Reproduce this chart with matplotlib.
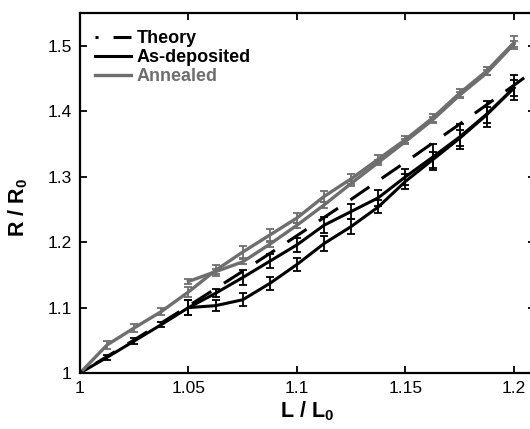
import matplotlib
matplotlib.use("Agg")
import matplotlib.pyplot as plt

plt.rcParams['font.family'] = ['Liberation Sans', 'DejaVu Sans']
plt.rcParams['mathtext.fontset'] = 'custom'
plt.rcParams['mathtext.rm'] = 'Liberation Sans'
plt.rcParams['mathtext.bf'] = 'Liberation Sans:bold'

GRAY = '#6e6e6e'

# strain steps L/L0
strain = [1.0, 1.0125, 1.025, 1.0375, 1.05, 1.0625, 1.075, 1.0875, 1.1,
          1.1125, 1.125, 1.1375, 1.15, 1.1625, 1.175, 1.1875, 1.2]
strain_2nd = strain[4:]

# theory
theory_L = [1.0, 1.025, 1.05, 1.075, 1.1, 1.125, 1.15, 1.175, 1.2, 1.225]
theory_R = [1.0, 1.0506, 1.1025, 1.1556, 1.21, 1.2656, 1.3225, 1.3806, 1.44, 1.5006]

# as-deposited, first branch and second branch
asdep_1 = [1.0, 1.024, 1.049, 1.074, 1.100, 1.122, 1.146, 1.171, 1.196,
           1.226, 1.247, 1.268, 1.300, 1.330, 1.361, 1.396, 1.436]
asdep_1_err = [0.003, 0.004, 0.004, 0.004, 0.012, 0.006, 0.011, 0.011, 0.011,
               0.012, 0.011, 0.012, 0.012, 0.020, 0.019, 0.020, 0.019]
asdep_2 = [1.100, 1.103, 1.112, 1.137, 1.166, 1.198, 1.224, 1.254, 1.293,
           1.326, 1.359, 1.395, 1.436]
asdep_2_err = [0.012, 0.008, 0.010, 0.010, 0.010, 0.011, 0.011, 0.010, 0.012,
               0.012, 0.012, 0.012, 0.012]

# annealed, first branch and second branch
anneal_1 = [1.0, 1.043, 1.069, 1.094, 1.124, 1.157, 1.185, 1.211, 1.237,
            1.270, 1.297, 1.327, 1.357, 1.390, 1.428, 1.462, 1.505]
anneal_1_err = [0.003, 0.006, 0.006, 0.005, 0.008, 0.008, 0.009, 0.009, 0.008,
                0.008, 0.008, 0.006, 0.006, 0.006, 0.006, 0.006, 0.010]
anneal_2 = [1.140, 1.155, 1.170, 1.197, 1.226, 1.257, 1.290, 1.322, 1.354,
            1.387, 1.425, 1.459, 1.503]
anneal_2_err = [0.004] * len(anneal_2)

fig = plt.figure(figsize=(5.30, 4.29), dpi=100)
ax = fig.add_axes([80 / 530, 56 / 429, 455 / 530, 360 / 429])

eb = dict(fmt='none', capsize=2.6, elinewidth=1.3, capthick=1.3)
ax.errorbar(strain, asdep_1, yerr=asdep_1_err, ecolor='black', **eb)
ax.errorbar(strain_2nd, asdep_2, yerr=asdep_2_err, ecolor='black', **eb)
ax.errorbar(strain, anneal_1, yerr=anneal_1_err, ecolor=GRAY, **eb)
ax.errorbar(strain_2nd, anneal_2, yerr=anneal_2_err, ecolor=GRAY, **eb)

ax.plot(strain, asdep_1, color='black', lw=2.2, label='As-deposited')
ax.plot(strain_2nd, asdep_2, color='black', lw=2.2)
ax.plot(strain, anneal_1, color=GRAY, lw=2.4, label='Annealed')
ax.plot(strain_2nd, anneal_2, color=GRAY, lw=2.4)
th, = ax.plot(theory_L, theory_R, color='black', lw=2.2,
              linestyle=(6.5, (7.5, 4.9)), label='Theory', zorder=5)

ax.set_xlim(1, 1.2097)
ax.set_ylim(1, 1.5505)
ax.set_xticks([1, 1.05, 1.1, 1.15, 1.2])
ax.set_xticklabels(['1', '1.05', '1.1', '1.15', '1.2'])
ax.set_yticks([1, 1.1, 1.2, 1.3, 1.4, 1.5])
ax.set_yticklabels(['1', '1.1', '1.2', '1.3', '1.4', '1.5'])
ax.tick_params(direction='in', top=True, right=True, length=5, width=1.3,
               labelsize=12.5, pad=6)
for s in ax.spines.values():
    s.set_linewidth(1.6)

ax.set_xlabel(r'L / L$_\mathbf{0}$', fontsize=15.5, fontweight='bold', labelpad=2)
ax.set_ylabel(r'R / R$_\mathbf{0}$', fontsize=15.5, fontweight='bold')
ax.yaxis.set_label_coords(-0.11, 0.46)

handles, labels = ax.get_legend_handles_labels()
order = [labels.index('Theory'), labels.index('As-deposited'), labels.index('Annealed')]
leg = ax.legend([handles[i] for i in order], [labels[i] for i in order],
                loc='upper left', bbox_to_anchor=(95 / 530, 1 - 30 / 429),
                bbox_transform=fig.transFigure, frameon=False, borderpad=0,
                borderaxespad=0, handlelength=2.0, handletextpad=0.3,
                labelspacing=0.12, prop={'weight': 'bold', 'size': 13})
leg.get_texts()[2].set_color(GRAY)

fig.savefig('out.png', dpi=100)
